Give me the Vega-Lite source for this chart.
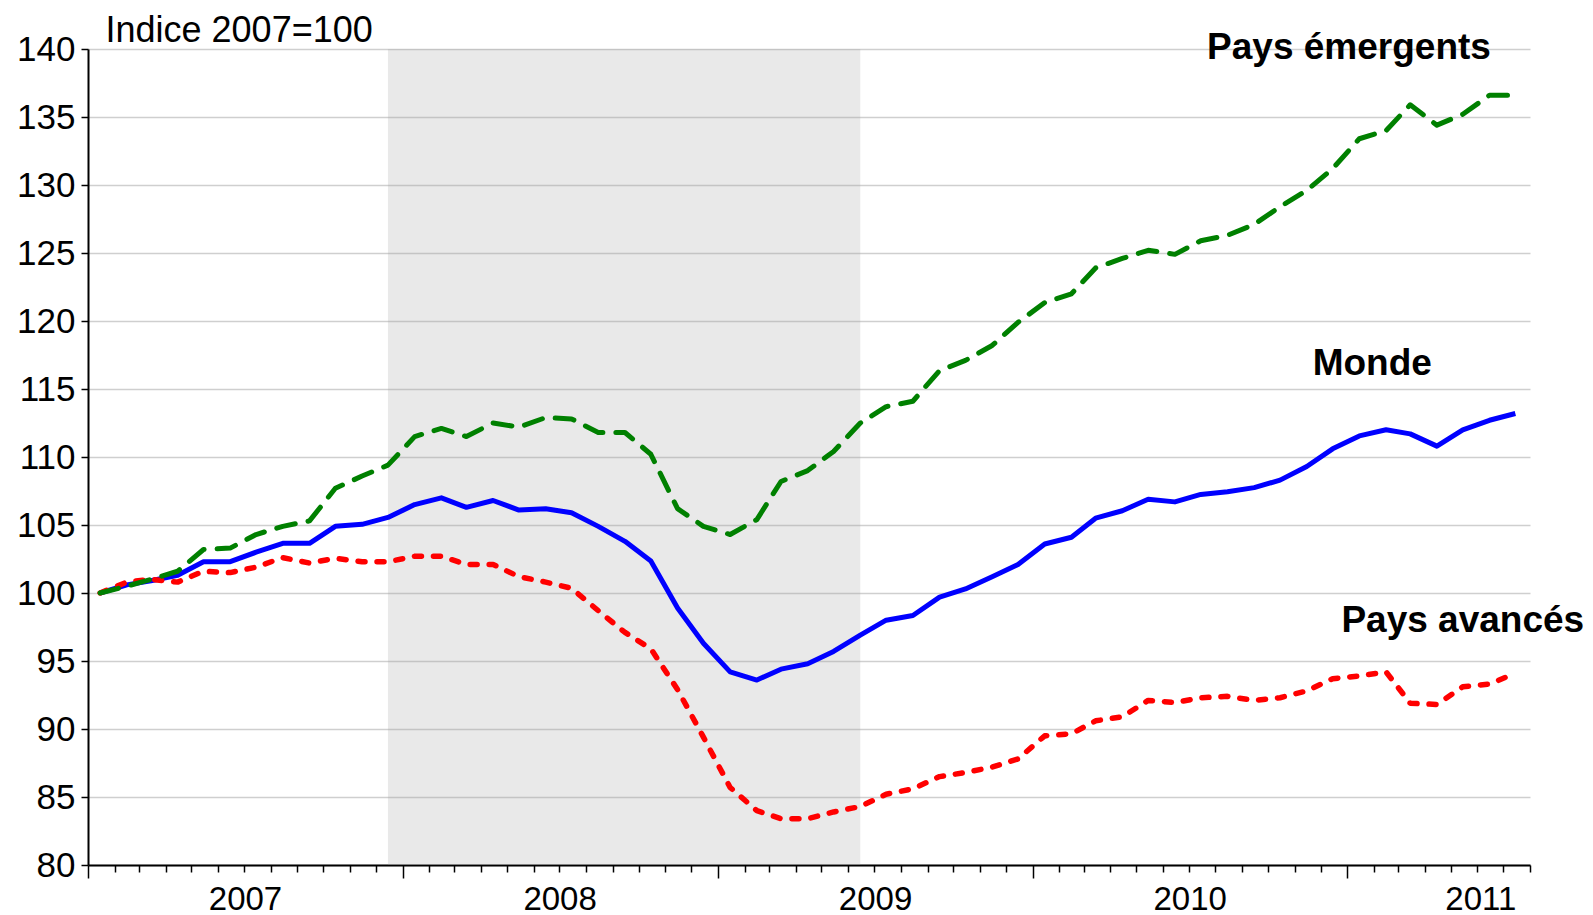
{
  "$schema": "https://vega.github.io/schema/vega-lite/v6.json",
  "width": 1442,
  "height": 816,
  "autosize": "none",
  "padding": {"left": 88, "top": 49, "right": 63, "bottom": 50},
  "background": "white",
  "config": {
    "view": {"stroke": null},
    "font": "Liberation Sans",
    "axisY": {
      "grid": true,
      "gridColor": "#cfcfcf",
      "gridWidth": 1.5,
      "domainColor": "black",
      "domainWidth": 2,
      "tickColor": "black",
      "tickWidth": 1.5,
      "tickSize": 7,
      "labelFont": "Liberation Sans",
      "labelFontSize": 35,
      "labelColor": "black",
      "labelPadding": 6,
      "titleAngle": 0,
      "titleAlign": "left",
      "titleBaseline": "alphabetic",
      "titleX": 17,
      "titleY": -8,
      "titleFont": "Liberation Sans",
      "titleFontSize": 36,
      "titleFontWeight": "normal",
      "titleColor": "black"
    }
  },
  "datasets": {
    "series": [
      {"d": "2007-01-15", "monde": 100.0, "emerg": 100.0, "avances": 100.0},
      {"d": "2007-02-15", "monde": 100.6, "emerg": 100.5, "avances": 100.8},
      {"d": "2007-03-15", "monde": 100.9, "emerg": 101.0, "avances": 101.0},
      {"d": "2007-04-15", "monde": 101.3, "emerg": 101.6, "avances": 100.8},
      {"d": "2007-05-15", "monde": 102.3, "emerg": 103.2, "avances": 101.6},
      {"d": "2007-06-15", "monde": 102.3, "emerg": 103.3, "avances": 101.5},
      {"d": "2007-07-15", "monde": 103.0, "emerg": 104.3, "avances": 101.9},
      {"d": "2007-08-15", "monde": 103.65, "emerg": 104.9, "avances": 102.6},
      {"d": "2007-09-15", "monde": 103.65, "emerg": 105.3, "avances": 102.2},
      {"d": "2007-10-15", "monde": 104.9, "emerg": 107.7, "avances": 102.55},
      {"d": "2007-11-15", "monde": 105.05, "emerg": 108.6, "avances": 102.3},
      {"d": "2007-12-15", "monde": 105.56, "emerg": 109.4, "avances": 102.3},
      {"d": "2008-01-15", "monde": 106.5, "emerg": 111.5, "avances": 102.7},
      {"d": "2008-02-15", "monde": 107.0, "emerg": 112.1, "avances": 102.7},
      {"d": "2008-03-15", "monde": 106.3, "emerg": 111.5, "avances": 102.1},
      {"d": "2008-04-15", "monde": 106.8, "emerg": 112.5, "avances": 102.1},
      {"d": "2008-05-15", "monde": 106.1, "emerg": 112.2, "avances": 101.2},
      {"d": "2008-06-15", "monde": 106.2, "emerg": 112.9, "avances": 100.8},
      {"d": "2008-07-15", "monde": 105.9, "emerg": 112.8, "avances": 100.35},
      {"d": "2008-08-15", "monde": 104.9, "emerg": 111.8, "avances": 98.7},
      {"d": "2008-09-15", "monde": 103.8, "emerg": 111.8, "avances": 97.1},
      {"d": "2008-10-15", "monde": 102.35, "emerg": 110.2, "avances": 95.9},
      {"d": "2008-11-15", "monde": 98.9, "emerg": 106.2, "avances": 92.9},
      {"d": "2008-12-15", "monde": 96.3, "emerg": 104.9, "avances": 89.4},
      {"d": "2009-01-15", "monde": 94.2, "emerg": 104.3, "avances": 85.7},
      {"d": "2009-02-15", "monde": 93.6, "emerg": 105.4, "avances": 84.0},
      {"d": "2009-03-15", "monde": 94.4, "emerg": 108.2, "avances": 83.4},
      {"d": "2009-04-15", "monde": 94.8, "emerg": 109.0, "avances": 83.4},
      {"d": "2009-05-15", "monde": 95.7, "emerg": 110.4, "avances": 83.9},
      {"d": "2009-06-15", "monde": 96.9, "emerg": 112.5, "avances": 84.3},
      {"d": "2009-07-15", "monde": 98.0, "emerg": 113.7, "avances": 85.2},
      {"d": "2009-08-15", "monde": 98.35, "emerg": 114.1, "avances": 85.6},
      {"d": "2009-09-15", "monde": 99.7, "emerg": 116.35, "avances": 86.5},
      {"d": "2009-10-15", "monde": 100.3, "emerg": 117.1, "avances": 86.8},
      {"d": "2009-11-15", "monde": 101.2, "emerg": 118.2, "avances": 87.2},
      {"d": "2009-12-15", "monde": 102.1, "emerg": 119.9, "avances": 87.8},
      {"d": "2010-01-15", "monde": 103.6, "emerg": 121.35, "avances": 89.5},
      {"d": "2010-02-15", "monde": 104.1, "emerg": 122.0, "avances": 89.65},
      {"d": "2010-03-15", "monde": 105.5, "emerg": 123.9, "avances": 90.6},
      {"d": "2010-04-15", "monde": 106.05, "emerg": 124.6, "avances": 90.9},
      {"d": "2010-05-15", "monde": 106.9, "emerg": 125.2, "avances": 92.1},
      {"d": "2010-06-15", "monde": 106.7, "emerg": 124.9, "avances": 91.95},
      {"d": "2010-07-15", "monde": 107.25, "emerg": 125.9, "avances": 92.3},
      {"d": "2010-08-15", "monde": 107.45, "emerg": 126.3, "avances": 92.4},
      {"d": "2010-09-15", "monde": 107.75, "emerg": 127.1, "avances": 92.1},
      {"d": "2010-10-15", "monde": 108.3, "emerg": 128.4, "avances": 92.3},
      {"d": "2010-11-15", "monde": 109.3, "emerg": 129.6, "avances": 92.8},
      {"d": "2010-12-15", "monde": 110.6, "emerg": 131.2, "avances": 93.7},
      {"d": "2011-01-15", "monde": 111.55, "emerg": 133.4, "avances": 93.9},
      {"d": "2011-02-15", "monde": 112.0, "emerg": 134.0, "avances": 94.2},
      {"d": "2011-03-15", "monde": 111.7, "emerg": 135.9, "avances": 91.9},
      {"d": "2011-04-15", "monde": 110.8, "emerg": 134.4, "avances": 91.8},
      {"d": "2011-05-15", "monde": 112.0, "emerg": 135.2, "avances": 93.1},
      {"d": "2011-06-15", "monde": 112.7, "emerg": 136.6, "avances": 93.3},
      {"d": "2011-07-15", "monde": 113.2, "emerg": 136.6, "avances": 94.1}
    ],
    "shade": [{"d": "2007-12-15", "d2": "2009-06-15"}],
    "labels": [
      {"d": "2011-01-03", "v": 139.3, "t": "Pays émergents"},
      {"d": "2011-01-30", "v": 116.0, "t": "Monde"},
      {"d": "2011-05-15", "v": 97.1, "t": "Pays avancés"}
    ]
  },
  "encoding": {
    "x": {
      "field": "d",
      "type": "temporal",
      "scale": {"type": "utc", "domain": ["2007-01-01", "2011-08-01"]},
      "axis": {
        "tickCount": {"interval": "month", "step": 1},
        "labelExpr": "utcmonth(datum.value) == 0 ? utcFormat(datum.value, '%Y') : ''",
        "tickSize": {"condition": {"test": "utcmonth(datum.value) == 0", "value": 13}, "value": 7},
        "labelOffset": {"condition": {"test": "utcyear(datum.value) == 2011", "value": 133}, "value": 157},
        "labelFlush": false,
        "labelOverlap": false,
        "labelFont": "Liberation Sans Narrow, Liberation Sans, sans-serif",
        "labelFontSize": 33,
        "labelColor": "black",
        "labelPadding": 5,
        "labelBaseline": "top",
        "domainColor": "black",
        "domainWidth": 2,
        "tickColor": "black",
        "tickWidth": 1.5,
        "grid": false,
        "title": null
      }
    }
  },
  "layer": [
    {
      "data": {"name": "shade"},
      "mark": {"type": "rect", "color": "#a0a0a0", "opacity": 0.23},
      "encoding": {"x2": {"field": "d2"}}
    },
    {
      "data": {"name": "series"},
      "mark": {"type": "line", "color": "#0000ff", "strokeWidth": 5, "strokeJoin": "round"},
      "encoding": {
        "y": {"field": "monde", "type": "quantitative", "scale": {"domain": [80, 140], "nice": false, "zero": false}, "axis": {"title": "Indice 2007=100", "values": [80, 85, 90, 95, 100, 105, 110, 115, 120, 125, 130, 135, 140]}}
      }
    },
    {
      "data": {"name": "series"},
      "mark": {"type": "line", "color": "#ff0000", "strokeWidth": 5.5, "strokeDash": [7, 12], "strokeCap": "round", "strokeJoin": "round"},
      "encoding": {
        "y": {"field": "avances", "type": "quantitative", "scale": {"domain": [80, 140], "nice": false, "zero": false}, "axis": {"title": "Indice 2007=100", "values": [80, 85, 90, 95, 100, 105, 110, 115, 120, 125, 130, 135, 140]}}
      }
    },
    {
      "data": {"name": "series"},
      "mark": {"type": "line", "color": "#008000", "strokeWidth": 5, "strokeDash": [19, 13], "strokeCap": "round", "strokeJoin": "round"},
      "encoding": {
        "y": {"field": "emerg", "type": "quantitative", "scale": {"domain": [80, 140], "nice": false, "zero": false}, "axis": {"title": "Indice 2007=100", "values": [80, 85, 90, 95, 100, 105, 110, 115, 120, 125, 130, 135, 140]}}
      }
    },
    {
      "data": {"name": "labels"},
      "mark": {"type": "text", "font": "Liberation Sans", "fontSize": 37, "fontWeight": "bold", "color": "black", "align": "center", "baseline": "alphabetic"},
      "encoding": {
        "y": {"field": "v", "type": "quantitative", "scale": {"domain": [80, 140], "nice": false, "zero": false}, "axis": {"title": "Indice 2007=100", "values": [80, 85, 90, 95, 100, 105, 110, 115, 120, 125, 130, 135, 140]}},
        "text": {"field": "t"}
      }
    }
  ]
}
